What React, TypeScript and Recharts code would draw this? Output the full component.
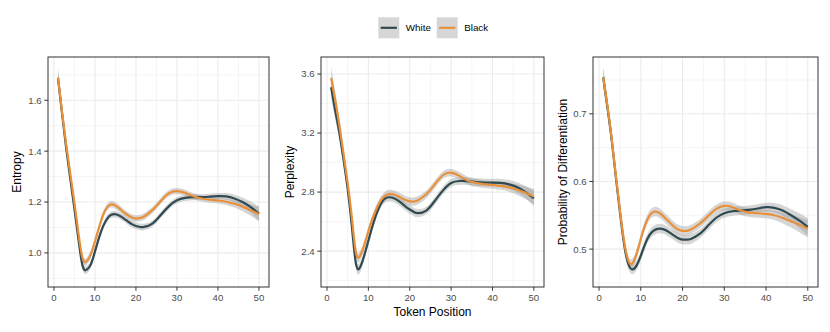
import { ComposedChart, Line, Area, XAxis, YAxis, CartesianGrid } from "recharts";

const positions = [
  1, 2, 3, 4, 5, 6, 7, 8, 9, 10, 11, 12, 13, 14, 15, 16, 17, 18, 19, 20, 21, 22,
  24, 26, 28, 30, 32, 34, 36, 38, 40, 42, 44, 46, 48, 50,
];

const entropyWhite = [
  1.685, 1.545, 1.41, 1.29, 1.172, 1.05, 0.948, 0.934, 0.955, 1.005, 1.06, 1.105, 1.135, 1.15, 1.152, 1.146, 1.136, 1.124, 1.113, 1.106, 1.102, 1.102,
  1.115, 1.148, 1.183, 1.207, 1.216, 1.219, 1.219, 1.221, 1.223, 1.222, 1.214, 1.2, 1.18, 1.154,
];
const entropyBlack = [
  1.69, 1.55, 1.425, 1.31, 1.197, 1.075, 0.978, 0.967, 0.995, 1.045, 1.1, 1.15, 1.18, 1.191, 1.186, 1.174, 1.16, 1.148, 1.139, 1.135, 1.137, 1.143,
  1.168, 1.203, 1.234, 1.243, 1.236, 1.223, 1.214, 1.209, 1.206, 1.201, 1.193, 1.182, 1.168, 1.152,
];
const entropyBand = [
  0.035, 0.028, 0.022, 0.018, 0.016, 0.015, 0.015, 0.015, 0.014, 0.014, 0.013, 0.013, 0.013, 0.013, 0.013, 0.013, 0.013, 0.013, 0.013, 0.013, 0.013, 0.013,
  0.012, 0.012, 0.012, 0.012, 0.012, 0.012, 0.012, 0.012, 0.012, 0.013, 0.015, 0.018, 0.022, 0.028,
];

const perplexityWhite = [
  3.51, 3.35, 3.2, 3.02, 2.82, 2.57, 2.315, 2.29, 2.37, 2.47, 2.57, 2.655, 2.72, 2.755, 2.765, 2.76, 2.745, 2.725, 2.702, 2.682, 2.665, 2.657,
  2.675, 2.738, 2.81, 2.862, 2.875, 2.874, 2.868, 2.865, 2.864, 2.862, 2.852, 2.832, 2.8, 2.758,
];
const perplexityBlack = [
  3.573, 3.42, 3.25, 3.06, 2.86, 2.63, 2.39, 2.368, 2.44, 2.535, 2.62, 2.69, 2.743, 2.775, 2.787, 2.785, 2.775, 2.76, 2.746, 2.737, 2.736, 2.745,
  2.785, 2.85, 2.914, 2.932, 2.91, 2.878, 2.862, 2.853, 2.848, 2.842, 2.832, 2.816, 2.795, 2.769,
];
const perplexityBand = [
  0.075, 0.06, 0.05, 0.042, 0.037, 0.035, 0.035, 0.034, 0.032, 0.03, 0.028, 0.028, 0.028, 0.028, 0.028, 0.028, 0.028, 0.028, 0.028, 0.028, 0.028, 0.028,
  0.026, 0.026, 0.026, 0.026, 0.026, 0.026, 0.026, 0.026, 0.026, 0.027, 0.03, 0.035, 0.042, 0.052,
];

const probWhite = [
  0.754, 0.71, 0.663, 0.608, 0.555, 0.507, 0.478, 0.47, 0.476, 0.49, 0.507, 0.52, 0.527, 0.53, 0.53, 0.528, 0.524, 0.52, 0.516, 0.514, 0.514, 0.515,
  0.522, 0.534, 0.546, 0.553, 0.556, 0.557, 0.558, 0.56, 0.562, 0.561, 0.557, 0.55, 0.542, 0.533,
];
const probBlack = [
  0.754, 0.712, 0.665, 0.61, 0.558, 0.512, 0.483, 0.479, 0.493, 0.515, 0.535, 0.549, 0.555, 0.555, 0.551, 0.545, 0.539, 0.533, 0.529, 0.527, 0.527, 0.529,
  0.537, 0.548, 0.559, 0.564, 0.562, 0.557, 0.554, 0.553, 0.552, 0.55, 0.546, 0.541, 0.536, 0.53,
];
const probBand = [
  0.014, 0.012, 0.01, 0.009, 0.008, 0.007, 0.007, 0.007, 0.007, 0.007, 0.007, 0.007, 0.007, 0.007, 0.007, 0.007, 0.007, 0.007, 0.007, 0.007, 0.007, 0.007,
  0.0065, 0.0065, 0.0065, 0.0065, 0.0065, 0.0065, 0.0065, 0.0065, 0.0065, 0.007, 0.008, 0.009, 0.011, 0.013,
];

const xTicks = [0, 10, 20, 30, 40, 50];
const xMinor = [5, 15, 25, 35, 45];
const entropyTicks = [1.0, 1.2, 1.4, 1.6];
const entropyMinor = [0.9, 1.1, 1.3, 1.5, 1.7];
const perplexityTicks = [2.4, 2.8, 3.2, 3.6];
const perplexityMinor = [2.2, 2.6, 3.0, 3.4];
const probTicks = [0.5, 0.6, 0.7];
const probMinor = [0.45, 0.55, 0.65, 0.75];

const groups = ["White", "Black"];

const WHITE_COLOR = "#2f4a51";
const BLACK_COLOR = "#e8913a";
const FONT = '"Liberation Sans", Arial, Helvetica, sans-serif';
const PLOT_TOP = 57;
const PLOT_H = 230;
const AXIS_W = 48;

function buildRows(white: number[], black: number[], band: number[]) {
  return positions.map((pos, i) => ({
    pos,
    white: white[i],
    black: black[i],
    whiteBand: [white[i] - band[i], white[i] + band[i]],
    blackBand: [black[i] - band[i], black[i] + band[i]],
  }));
}

const panels = [
  { title: "Entropy", rows: buildRows(entropyWhite, entropyBlack, entropyBand), domain: [0.866, 1.77], ticks: entropyTicks, minor: entropyMinor, left: 48, width: 221, titleX: 16.5 },
  { title: "Perplexity", rows: buildRows(perplexityWhite, perplexityBlack, perplexityBand), domain: [2.157, 3.715], ticks: perplexityTicks, minor: perplexityMinor, left: 321, width: 223, titleX: 290 },
  { title: "Probability of Differentiation", rows: buildRows(probWhite, probBlack, probBand), domain: [0.444, 0.784], ticks: probTicks, minor: probMinor, left: 593, width: 225, titleX: 563 },
];

const tickStyle = { fill: "#4d4d4d", fontSize: 9.6, fontFamily: FONT };

function Panel({ p }: { p: (typeof panels)[number] }) {
  return (
    <div style={{ position: "absolute", left: p.left - AXIS_W, top: 0 }}>
      <ComposedChart
        width={AXIS_W + p.width}
        height={PLOT_TOP + PLOT_H + 24}
        data={p.rows}
        margin={{ top: PLOT_TOP, right: 0, bottom: 0, left: 0 }}
      >
        <CartesianGrid stroke="#f2f2f2" strokeWidth={0.8} horizontalValues={p.minor} verticalValues={xMinor} />
        <CartesianGrid stroke="#ebebeb" strokeWidth={1.1} horizontalValues={p.ticks} verticalValues={xTicks} />
        <XAxis
          type="number"
          dataKey="pos"
          domain={[-1.45, 52.45]}
          ticks={xTicks}
          allowDataOverflow
          height={24}
          axisLine={false}
          tickLine={{ stroke: "#333333" }}
          tickSize={3.7}
          tickMargin={3}
          tick={tickStyle}
        />
        <YAxis
          type="number"
          domain={p.domain}
          ticks={p.ticks}
          allowDataOverflow
          width={AXIS_W}
          axisLine={false}
          tickLine={{ stroke: "#333333" }}
          tickSize={3.7}
          tickMargin={2.6}
          tick={tickStyle}
          tickFormatter={(v: number) => v.toFixed(1)}
        />
        <Area type="natural" dataKey="whiteBand" stroke="none" fill="#999999" fillOpacity={0.4} isAnimationActive={false} activeDot={false} />
        <Area type="natural" dataKey="blackBand" stroke="none" fill="#999999" fillOpacity={0.4} isAnimationActive={false} activeDot={false} />
        <Line type="natural" dataKey="white" stroke={WHITE_COLOR} strokeWidth={2.2} dot={false} activeDot={false} isAnimationActive={false} />
        <Line type="natural" dataKey="black" stroke={BLACK_COLOR} strokeWidth={2.2} dot={false} activeDot={false} isAnimationActive={false} />
      </ComposedChart>
    </div>
  );
}

export default function App() {
  const legendX = [378.3, 436.7];
  return (
    <div style={{ position: "absolute", left: 0, top: 0, width: 830, height: 332, background: "#fff" }}>
      {panels.map((p) => (
        <Panel key={p.title} p={p} />
      ))}
      <svg width={830} height={332} style={{ position: "absolute", left: 0, top: 0, pointerEvents: "none" }}>
        {panels.map((p) => (
          <g key={p.title}>
            <rect x={p.left} y={PLOT_TOP} width={p.width} height={PLOT_H} fill="none" stroke="#333333" strokeWidth={1} />
            <text
              transform={`translate(${p.titleX},${PLOT_TOP + PLOT_H / 2}) rotate(-90)`}
              textAnchor="middle"
              dominantBaseline="central"
              fontFamily={FONT}
              fontSize={12}
              fill="#000"
            >
              {p.title}
            </text>
          </g>
        ))}
        <text x={432.5} y={315.5} textAnchor="middle" fontFamily={FONT} fontSize={12} fill="#000">
          Token Position
        </text>
        {groups.map((g, i) => (
          <g key={g}>
            <rect x={legendX[i]} y={17.3} width={21} height={21} fill="#d6d6d6" />
            <line x1={legendX[i] + 2.4} x2={legendX[i] + 18.6} y1={27.8} y2={27.8} stroke={i === 0 ? WHITE_COLOR : BLACK_COLOR} strokeWidth={2.2} />
            <text x={legendX[i] + 27.5} y={31.2} fontFamily={FONT} fontSize={9.8} fill="#000">
              {g}
            </text>
          </g>
        ))}
      </svg>
    </div>
  );
}
